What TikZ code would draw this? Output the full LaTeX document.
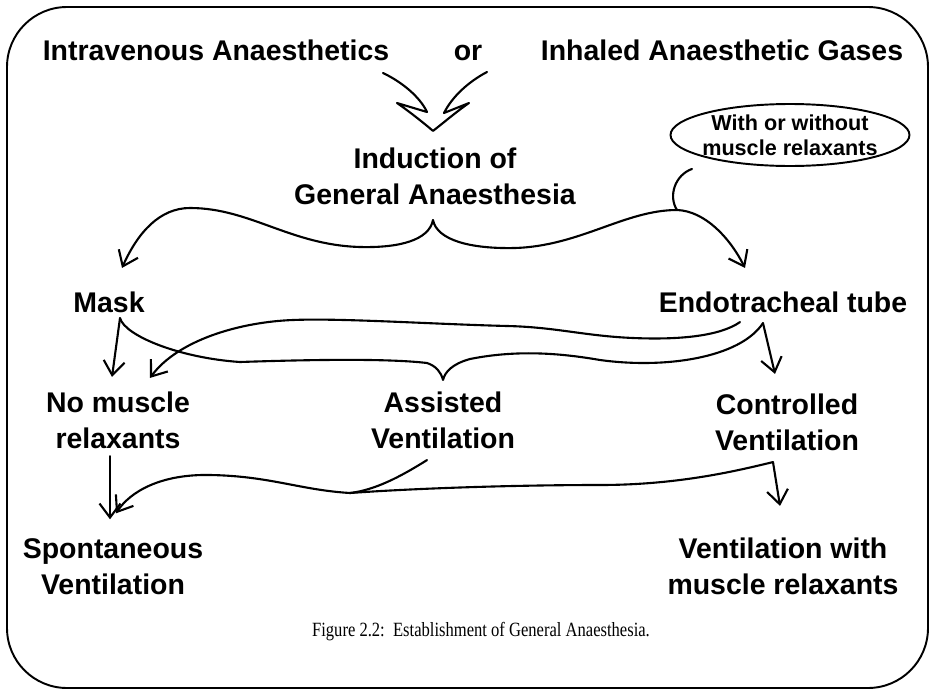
\documentclass[tikz,border=0pt]{standalone}
\usepackage{fontspec}
\setmainfont{Liberation Sans}
\newfontfamily\capfont[FakeStretch=0.82]{Liberation Serif}
\usetikzlibrary{arrows.meta,calc,shapes.geometric}

\begin{document}
\begin{tikzpicture}[
  x=0.02cm, y=-0.02cm,
  lbl/.style={font=\fontsize{16.2}{20.5}\selectfont\bfseries, align=center, inner sep=3pt},
  bubble/.style={ellipse, draw, line width=1.1pt, font=\fontsize{12.3}{14}\selectfont\bfseries,
    align=center, minimum width=4.78cm, minimum height=1.24cm, inner xsep=-5pt, inner ysep=0pt},
  ln/.style={line width=1.2pt, line cap=round, line join=round},
  ar/.style={ln, -{Straight Barb[length=2.8mm,width=4.2mm]}}
]
  \useasboundingbox (0,0) rectangle (931,690);
  \draw[line width=1.1pt, rounded corners=1.2cm] (7,7) rectangle (928,688);

  % labels
  \node[lbl] (iv) at (216,50) {Intravenous Anaesthetics};
  \node[lbl, anchor=base] (orw) at ($(iv.base)+(252,0)$) {or};
  \node[lbl] (gas) at (722,50) {Inhaled Anaesthetic Gases};
  \node[lbl] (ind) at (435,176) {Induction of\\General Anaesthesia};
  \node[bubble] (wwo) at (790,135) {With or without\\muscle relaxants};
  \node[lbl] (mask) at (109,302) {Mask};
  \node[lbl] (ett) at (783,302) {Endotracheal tube};
  \node[lbl] (nomr) at (118,420) {No muscle\\relaxants};
  \node[lbl] (asv) at (443,420) {Assisted\\Ventilation};
  \node[lbl] (cv) at (787,422) {Controlled\\Ventilation};
  \node[lbl] (spv) at (113,567) {Spontaneous\\Ventilation};
  \node[lbl] (vmr) at (783,566) {Ventilation with\\muscle relaxants};
  \node[font=\capfont\fontsize{11.5}{13}\selectfont] (fig) at (481,632) {Figure 2.2:\ \ Establishment of General Anaesthesia.};

  % merge into induction
  \coordinate (m1) at (383,73);
  \coordinate (m2) at (487,72);
  \draw[ln] (m1) .. controls (402,82) and (420,97) .. (427,112) -- (397,103)
    .. controls (410,112) and (425,124) .. ($(ind.north)+(-2,-11)$)
    .. controls (442,124) and (456,112) .. (469,103) -- (444,113)
    .. controls (452,97) and (468,82) .. (m2);

  % induction -> mask / tube
  \coordinate (b1) at ($(ind.south)+(-2,10)$);
  \coordinate (j1) at (677,210);
  \draw[ar] (b1) .. controls (429,240) and (400,248) .. (360,247)
    .. controls (290,245) and (250,208) .. (190,208)
    .. controls (160,208) and (138,232) .. ($(mask.north)+(13,-18)$);
  \draw[ar] (b1) .. controls (437,240) and (470,249) .. (515,248)
    .. controls (580,246) and (625,210) .. (j1)
    .. controls (705,211) and (730,238) .. ($(ett.north)+(-38,-18)$);
  \draw[ln] ($(wwo.south)+(-98,2)$) .. controls (675,175) and (668,196) .. (j1);

  % mask / tube -> second row
  \coordinate (mk) at ($(mask.south)+(11,0)$);
  \coordinate (et) at ($(ett.south)+(-20,5)$);
  \coordinate (b2) at ($(asv.north)+(0,-6)$);
  \draw[ar] (mk) -- ($(nomr.north)+(-6,-9)$);
  \draw[ln] (mk) .. controls (125,336) and (180,358) .. (240,362)
    .. controls (300,360) and (385,358) .. (427,363)
    .. controls (436,366) and (441,372) .. (b2)
    .. controls (445,372) and (452,364) .. (470,359)
    .. controls (520,349) and (565,354) .. (600,360)
    .. controls (665,369) and (740,358) .. (et);
  \draw[ar] (et) -- ($(cv.north)+(-12,-14)$);
  \draw[ar] ($(ett.south)+(-43,4)$) .. controls (720,336) and (680,340) .. (633,338)
    .. controls (585,336) and (555,327) .. (507,326)
    .. controls (430,324) and (340,318) .. (293,320)
    .. controls (240,322) and (178,340) .. ($(nomr.north)+(32,-8)$);

  % second row -> ventilation
  \coordinate (cva) at ($(cv.south)+(-14,6)$);
  \coordinate (j2) at (350,493);
  \draw[ar] ($(nomr.south)+(-8,2)$) -- ($(spv.north)+(-3,-14)$);
  \draw[ar] (cva) -- ($(vmr.north)+(-3,-26)$);
  \draw[ar] (cva) .. controls (740,470) and (680,485) .. (600,485)
    .. controls (520,485) and (420,488) .. (j2)
    .. controls (300,490) and (270,476) .. (210,475)
    .. controls (160,474) and (130,492) .. ($(spv.north)+(3,-20)$);
  \draw[ln] ($(asv.south)+(-16,6)$) .. controls (400,477) and (375,490) .. (j2);
\end{tikzpicture}
\end{document}
